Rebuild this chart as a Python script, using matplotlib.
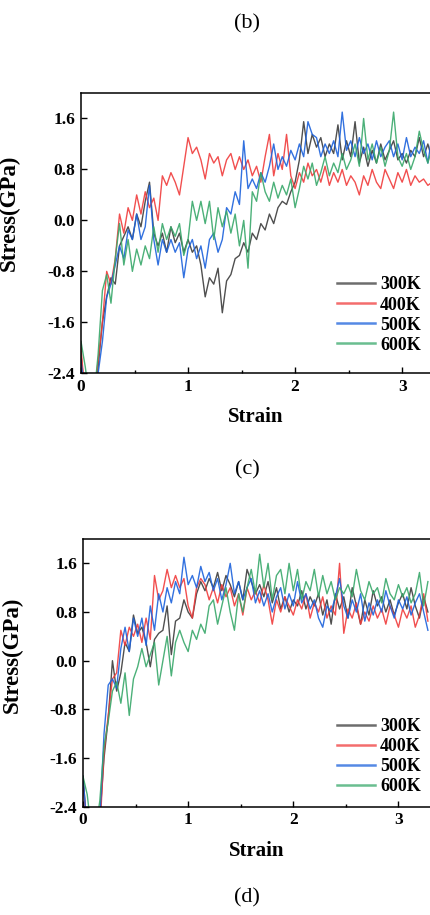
import matplotlib
matplotlib.use("Agg")
import matplotlib.pyplot as plt
from matplotlib.ticker import MultipleLocator

plt.rcParams['font.family'] = ['Liberation Serif', 'DejaVu Serif']

strain = [0.00, 0.04, 0.08, 0.12, 0.16, 0.20, 0.24, 0.28, 0.32, 0.36,
          0.40, 0.44, 0.48, 0.52, 0.56, 0.60, 0.64, 0.68, 0.72, 0.76,
          0.80, 0.84, 0.88, 0.92, 0.96, 1.00, 1.04, 1.08, 1.12, 1.16,
          1.20, 1.24, 1.28, 1.32, 1.36, 1.40, 1.44, 1.48, 1.52, 1.56,
          1.60, 1.64, 1.68, 1.72, 1.76, 1.80, 1.84, 1.88, 1.92, 1.96,
          2.00, 2.04, 2.08, 2.12, 2.16, 2.20, 2.24, 2.28, 2.32, 2.36,
          2.40, 2.44, 2.48, 2.52, 2.56, 2.60, 2.64, 2.68, 2.72, 2.76,
          2.80, 2.84, 2.88, 2.92, 2.96, 3.00, 3.04, 3.08, 3.12, 3.16,
          3.20, 3.24, 3.28]

labels = ["300K", "400K", "500K", "600K"]
colors = ["#3c3c3c", "#f03c3c", "#1c62dc", "#38a86a"]

# ---- panel (c) ----
c_300 = [-2.1, -2.8, -2.8, -2.8, -2.3, -1.6, -1.2, -0.9, -1.0, -0.4,
         -0.25, -0.1, -0.3, 0.1, -0.1, 0.3, 0.6, -0.2, -0.4, -0.2,
         -0.5, -0.1, -0.35, -0.2, -0.5, -0.3, -0.5, -0.4, -0.7, -1.2,
         -0.9, -1.0, -0.75, -1.45, -0.95, -0.85, -0.6, -0.55, -0.35, -0.5,
         -0.2, -0.3, -0.05, -0.15, 0.1, -0.05, 0.2, 0.3, 0.25, 0.45,
         0.6, 0.95, 1.55, 1.05, 1.35, 1.15, 1.3, 1.0, 1.2, 1.05,
         1.5, 0.95, 1.25, 1.0, 1.55, 0.9, 1.15, 0.85, 1.1, 0.9,
         1.2, 0.95, 1.1, 1.25, 0.95, 1.05, 0.9, 1.1, 1.0, 1.3,
         1.0, 1.2, 0.95]
c_400 = [-2.0, -2.8, -2.8, -2.8, -2.2, -1.6, -0.8, -1.0, -0.6, 0.1,
         -0.2, 0.2, 0.0, 0.4, 0.1, 0.45, 0.2, 0.35, 0.0, 0.7,
         0.55, 0.75, 0.6, 0.4, 0.85, 1.3, 1.05, 1.15, 0.95, 0.65,
         1.05, 0.9, 1.0, 0.7, 0.95, 1.05, 0.8, 1.0, 0.8, 0.95,
         0.7, 0.85, 0.6, 1.0, 1.35, 0.7, 1.05, 0.8, 1.35, 0.7,
         0.5, 0.75, 0.6, 0.9, 0.7, 0.8, 0.6, 0.85, 0.55, 0.75,
         0.6, 0.8, 0.55, 0.7, 0.6, 0.4, 0.7, 0.55, 0.8, 0.6,
         0.5, 0.8, 0.65, 0.5, 0.75, 0.6, 0.8, 0.55, 0.7, 0.6,
         0.65, 0.55, 0.6]
c_500 = [-2.2, -2.8, -2.8, -2.8, -2.4, -1.9, -1.2, -1.0, -0.7, -0.4,
         -0.6, -0.15, -0.3, 0.1, -0.3, -0.1, 0.55, -0.3, -0.7, -0.3,
         -0.5, -0.3, -0.5, -0.35, -0.9, -0.45, -0.3, -0.6, -0.4, -0.75,
         -0.3, -0.2, -0.5, -0.3, 0.2, 0.1, 0.45, 0.25, 1.25, 0.5,
         0.65, 0.5, 0.75, 0.6, 0.85, 1.2, 0.8, 1.0, 0.85, 1.1,
         0.95, 1.2, 1.0, 1.55, 1.35, 1.3, 1.0, 1.2, 1.05, 1.25,
         1.0, 1.7, 1.1, 1.25, 1.0, 1.3, 1.05, 1.2, 0.95, 1.25,
         1.0, 1.15, 1.25, 1.0, 1.2, 0.95, 1.3, 1.0, 1.15, 1.05,
         1.25, 0.9, 1.35]
c_600 = [-1.9, -2.3, -2.8, -2.8, -2.1, -1.1, -0.85, -1.3, -0.6, -0.05,
         -0.7, -0.3, -0.8, -0.45, -0.7, -0.4, -0.6, -0.1, -0.5, -0.05,
         -0.3, -0.1, -0.25, -0.05, -0.55, -0.3, 0.3, 0.0, 0.3, -0.05,
         0.3, -0.3, 0.2, -0.1, 0.15, -0.2, 0.1, -0.4, 0.0, -0.75,
         0.45, 0.3, 0.75, 0.45, 0.3, 0.6, 0.35, 0.55, 0.4, 0.65,
         0.2, 0.5, 0.85, 0.65, 0.9, 0.55, 0.75, 1.0, 0.7, 0.9,
         0.75, 1.05, 0.8, 0.95, 1.2, 0.85, 1.6, 0.95, 1.2, 0.9,
         1.15, 0.85, 1.1, 1.7, 1.0, 0.85, 1.05, 0.8, 1.0, 1.4,
         1.1, 0.9, 1.15]

# ---- panel (d) ----
d_300 = [-1.9, -2.8, -2.8, -2.8, -2.6, -1.6, -0.95, 0.0, -0.5, -0.2,
         0.3, 0.15, 0.75, 0.45, 0.55, 0.3, -0.1, 0.35, 0.45, 0.5,
         0.9, 0.1, 0.65, 0.7, 1.0, 0.8, 0.7, 1.1, 1.3, 1.15,
         1.35, 1.2, 1.45, 1.15, 1.4, 1.25, 1.05, 1.3, 1.0, 1.5,
         1.3, 1.1, 1.25, 1.05, 1.3, 0.95, 1.2, 0.85, 1.05, 0.8,
         1.0, 0.9, 1.15, 0.85, 1.05, 0.9, 1.1, 0.75, 1.0, 0.6,
         1.1, 0.85, 1.05, 0.7, 1.2, 0.9, 0.6, 1.0, 0.75, 1.15,
         0.9, 1.05, 0.8, 1.0, 0.75, 0.95, 1.1, 0.85, 1.2, 0.9,
         0.7, 1.05, 0.8]
d_400 = [-2.0, -2.8, -2.8, -2.8, -2.8, -1.5, -0.9, -0.3, -0.2, 0.5,
         0.25, 0.55, 0.4, 0.6, 0.3, 0.7, 0.35, 1.4, 1.0, 1.15,
         1.5, 1.2, 1.4, 1.2, 1.35, 0.9, 0.7, 1.2, 1.35, 1.25,
         1.0, 1.2, 0.95, 1.25, 1.05, 1.2, 0.9, 1.1, 0.75, 1.2,
         1.0, 1.15, 0.95, 1.25, 1.0, 0.6, 1.0, 0.8, 1.05, 0.9,
         0.75, 1.0, 0.85, 1.1, 0.7, 0.95, 0.8, 1.05, 0.7, 0.9,
         0.75, 1.6, 0.45, 0.85, 0.7, 0.95, 0.6, 0.8, 0.65, 0.9,
         0.7, 0.85, 0.6, 0.9, 0.75, 0.55, 0.85, 0.7, 0.9, 0.55,
         0.75, 1.1, 0.65]
d_500 = [-1.9, -2.8, -2.8, -2.8, -2.6, -1.2, -0.4, -0.3, -0.45, 0.2,
         0.55, 0.15, 0.7, 0.4, 0.7, 0.25, 0.9, 0.5, 1.1, 0.8,
         1.2, 0.95, 1.3, 1.1, 1.7, 1.25, 1.4, 1.2, 1.55, 1.3,
         1.45, 1.15, 1.35, 1.0, 1.25, 1.6, 1.1, 1.3, 1.0, 1.2,
         1.35, 0.95, 1.15, 0.9, 1.1, 0.8, 1.05, 1.2, 0.85, 1.1,
         0.9, 1.3, 0.95, 1.1, 0.85, 1.0, 0.7, 0.55, 0.9, 0.8,
         1.05, 1.35, 0.9, 0.7, 1.0, 0.8, 1.1, 0.65, 0.95, 0.75,
         1.0, 0.8, 1.15, 0.9, 0.7, 1.0, 0.85, 1.05, 0.75, 0.95,
         1.1, 0.8, 0.5]
d_600 = [-1.9, -2.2, -2.8, -2.8, -2.3, -1.4, -1.0, -0.5, -0.35, -0.7,
         -0.2, -0.9, -0.3, -0.1, 0.2, -0.1, 0.1, 0.3, -0.4, 0.0,
         0.4, -0.25, 0.3, 0.5, 0.3, 0.15, 0.5, 0.35, 0.6, 0.45,
         0.9, 1.0, 0.6, 0.9, 1.2, 0.8, 0.5, 1.1, 0.8, 1.2,
         1.5, 1.1, 1.75, 1.2, 1.6, 1.0, 1.4, 1.5, 1.1, 1.6,
         1.15, 1.5, 1.0, 1.3, 1.15, 1.5, 1.05, 1.4, 1.1, 1.3,
         1.0, 1.2, 1.1, 1.25, 1.05, 1.5, 1.15, 1.0, 1.3, 1.1,
         1.2, 0.95, 1.35, 1.1, 1.0, 1.25, 1.05, 1.2, 0.95, 1.1,
         1.45, 0.9, 1.3]

yticks = [-2.4, -1.6, -0.8, 0.0, 0.8, 1.6]
xticks = [0, 1, 2, 3]

W, H = 430, 915
fig = plt.figure(figsize=(W / 100, H / 100), dpi=100)


def make_panel(rect, series, xmax, leg_y):
    ax = fig.add_axes(rect)
    for ys, lab, col in zip(series, labels, colors):
        ax.plot(strain, ys, color=col, lw=1.0, alpha=0.9, label=lab)
    ax.set_xlim(0, xmax)
    ax.set_ylim(-2.4, 2.0)
    ax.set_yticks(yticks)
    ax.set_yticklabels([f"{v:.1f}" for v in yticks])
    ax.set_xticks(xticks)
    ax.xaxis.set_minor_locator(MultipleLocator(0.5))
    ax.tick_params(axis='both', which='major', direction='in', length=4,
                   width=1.0, labelsize=12.5, pad=4)
    ax.tick_params(axis='x', which='minor', direction='in', length=2.5, width=1.0)
    for lab in ax.get_xticklabels() + ax.get_yticklabels():
        lab.set_fontweight('bold')
    ax.spines['right'].set_visible(False)
    for s in ['left', 'top', 'bottom']:
        ax.spines[s].set_linewidth(1.1)
    ax.set_xlabel("Strain", fontsize=15, fontweight='bold', labelpad=9)
    ax.set_ylabel("Stress(GPa)", fontsize=16.5, fontweight='bold')
    leg = ax.legend(loc='lower right', frameon=False,
                    prop={'weight': 'bold', 'size': 13},
                    handlelength=2.1, handletextpad=0.3, labelspacing=0.17,
                    borderaxespad=0.3, bbox_to_anchor=(1.01, leg_y))
    for h in leg.get_lines():
        h.set_linewidth(1.8)
        h.set_alpha(0.75)
    return ax


ax1 = make_panel([81 / W, 1 - 373.3 / H, 1 - 81 / W, (373.3 - 93) / H],
                 [c_300, c_400, c_500, c_600], 3.26, 0.025)
ax1.yaxis.set_label_coords(20 / W, 1 - 213 / H, transform=fig.transFigure)
ax2 = make_panel([83 / W, 1 - 806.7 / H, 1 - 83 / W, (806.7 - 539) / H],
                 [d_300, d_400, d_500, d_600], 3.30, -0.005)
ax2.yaxis.set_label_coords(23 / W, 1 - 655 / H, transform=fig.transFigure)

fig.text(247 / W, 1 - 24 / H, "(b)", ha='center', va='center', fontsize=16)
fig.text(247 / W, 1 - 470 / H, "(c)", ha='center', va='center', fontsize=16)
fig.text(247 / W, 1 - 898 / H, "(d)", ha='center', va='center', fontsize=16)

fig.savefig("out.png", dpi=100)
